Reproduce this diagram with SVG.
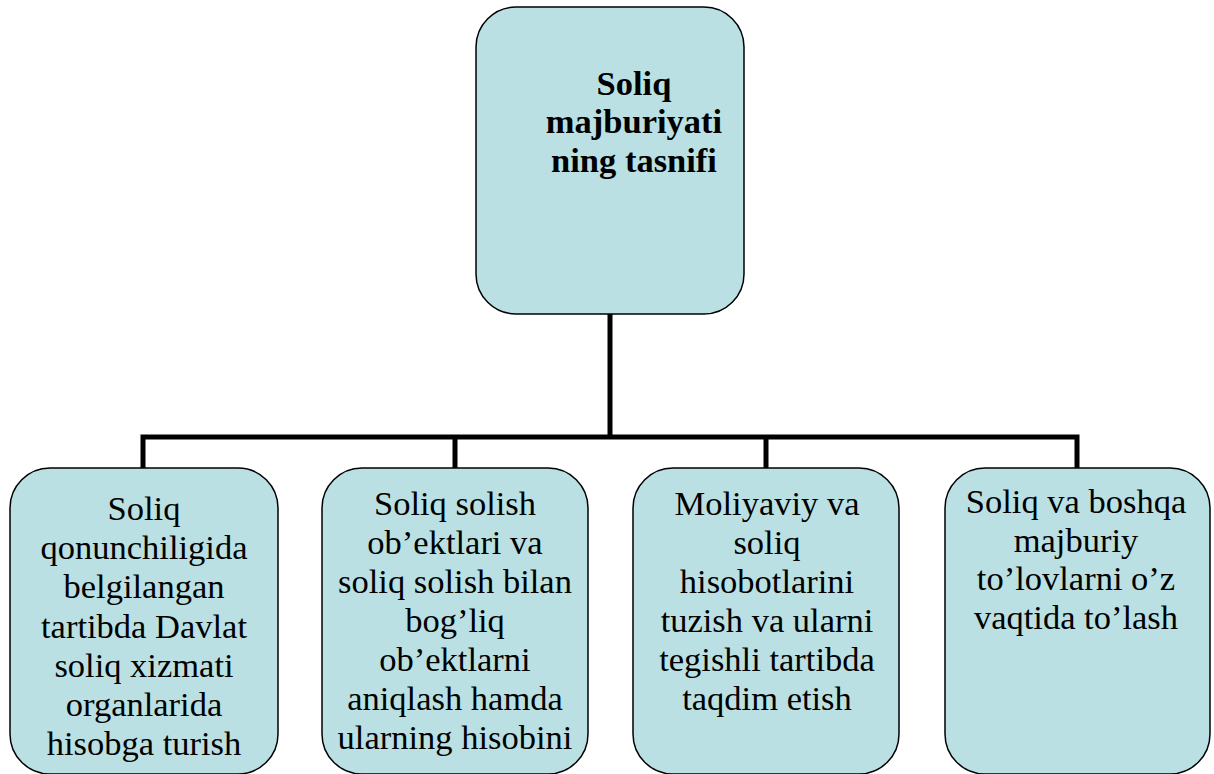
<svg xmlns="http://www.w3.org/2000/svg" width="1214" height="774" viewBox="0 0 1214 774" font-family="Liberation Serif, Times New Roman, DejaVu Serif, serif">
  <style>
    .box { fill: #BAE0E4; stroke: #000; stroke-width: 1.5; }
    .wire { fill: none; stroke: #000; stroke-width: 5; stroke-linejoin: miter; }
    .lbl { font-family: 'Liberation Serif', 'DejaVu Serif', serif; font-size: 34.5px; fill: #000; text-anchor: middle; }
    .title { font-weight: bold; }
  </style>
  <rect width="1214" height="774" fill="#fff"/>

  <!-- connectors -->
  <g id="connectors">
    <path class="wire" d="M610,314 V437"/>
    <path class="wire" d="M143,468 V437 H1077 V468"/>
    <path class="wire" d="M455,437 V468"/>
    <path class="wire" d="M766,437 V468"/>
  </g>

  <g id="root">
    <rect class="box" x="476" y="7" width="268" height="307" rx="40" ry="40"/>
    <text class="lbl title" x="634" y="95">Soliq</text>
    <text class="lbl title" x="634" y="133">majburiyati</text>
    <text class="lbl title" x="634" y="172">ning tasnifi</text>
  </g>

  <g id="node1">
    <rect class="box" x="10" y="468" width="268" height="306" rx="40" ry="40"/>
    <text class="lbl" x="144" y="520">Soliq</text>
    <text class="lbl" x="144" y="559">qonunchiligida</text>
    <text class="lbl" x="144" y="598">belgilangan</text>
    <text class="lbl" x="144" y="638">tartibda Davlat</text>
    <text class="lbl" x="144" y="677">soliq xizmati</text>
    <text class="lbl" x="144" y="716">organlarida</text>
    <text class="lbl" x="144" y="755">hisobga turish</text>
  </g>

  <g id="node2">
    <rect class="box" x="322" y="468" width="266" height="306" rx="40" ry="40"/>
    <text class="lbl" x="455" y="515">Soliq solish</text>
    <text class="lbl" x="455" y="554">ob’ektlari va</text>
    <text class="lbl" x="455" y="593">soliq solish bilan</text>
    <text class="lbl" x="455" y="632">bog’liq</text>
    <text class="lbl" x="455" y="671">ob’ektlarni</text>
    <text class="lbl" x="455" y="710">aniqlash hamda</text>
    <text class="lbl" x="455" y="749">ularning hisobini</text>
  </g>

  <g id="node3">
    <rect class="box" x="633" y="468" width="266" height="306" rx="40" ry="40"/>
    <text class="lbl" x="767" y="515">Moliyaviy va</text>
    <text class="lbl" x="767" y="554">soliq</text>
    <text class="lbl" x="767" y="593">hisobotlarini</text>
    <text class="lbl" x="767" y="632">tuzish va ularni</text>
    <text class="lbl" x="767" y="671">tegishli tartibda</text>
    <text class="lbl" x="767" y="710">taqdim etish</text>
  </g>

  <g id="node4">
    <rect class="box" x="945" y="468" width="265" height="306" rx="40" ry="40"/>
    <text class="lbl" x="1076" y="513">Soliq va boshqa</text>
    <text class="lbl" x="1076" y="552">majburiy</text>
    <text class="lbl" x="1076" y="590">to’lovlarni o’z</text>
    <text class="lbl" x="1076" y="629">vaqtida to’lash</text>
  </g>
</svg>
